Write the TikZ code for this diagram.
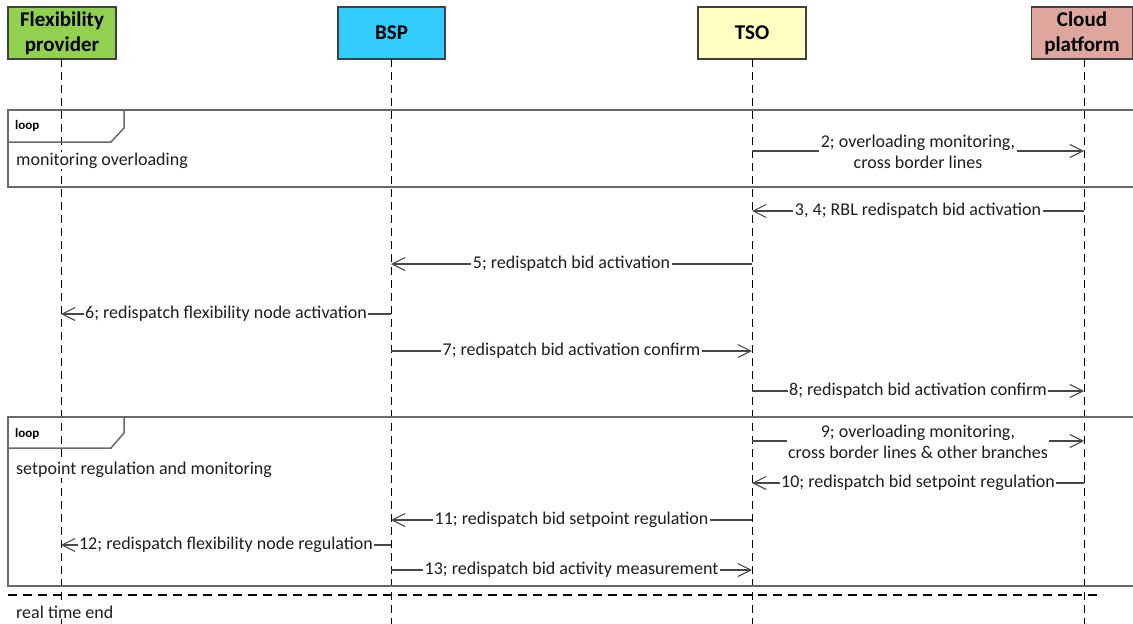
\documentclass[tikz,border=0pt]{standalone}
\usepackage{fontspec}
\setmainfont{Carlito}
\usetikzlibrary{arrows.meta}
\definecolor{fpgreen}{RGB}{146,208,80}
\definecolor{bspblue}{RGB}{51,204,255}
\definecolor{tsoyellow}{RGB}{255,255,194}
\definecolor{cloudpink}{RGB}{223,166,158}
\definecolor{edgegray}{RGB}{64,64,64}
\definecolor{msggray}{RGB}{72,72,72}
\definecolor{framegray}{RGB}{105,105,105}
\definecolor{txt}{RGB}{30,30,30}

\begin{document}
\begin{tikzpicture}[x=1pt,y=-1pt,
  actor/.style={draw=edgegray,line width=1.3pt,minimum height=52pt,inner sep=0pt,
    align=center,text=black,font=\fontsize{21}{25}\selectfont\bfseries},
  lifeline/.style={line width=1pt,dash pattern=on 8pt off 5pt},
  msg/.style={draw=msggray,line width=1.1pt,
    -{Straight Barb[length=13pt,width=13pt,line width=1.1pt]}},
  lbl/.style={fill=white,inner sep=1.5pt,text=txt,font=\fontsize{18}{21.5}\selectfont,
    text height=13pt,text depth=5pt},
  lbltwo/.style={fill=white,inner sep=1.5pt,text=txt,font=\fontsize{18}{21.5}\selectfont,
    align=center,yshift=-1pt},
  frame/.style={draw=framegray,line width=1.5pt},
  looptag/.style={font=\fontsize{13}{15}\selectfont\bfseries,anchor=base west,inner sep=0pt},
  looptext/.style={font=\fontsize{18}{21.5}\selectfont,text=txt,anchor=base west,
    fill=white,inner sep=1pt}]

\useasboundingbox (0,0) rectangle (1133,624);

% participants
\node[actor,fill=fpgreen,minimum width=108pt] (FP) at (62,33) {Flexibility\\provider};
\node[actor,fill=bspblue,minimum width=107pt] (BSP) at (391.5,33) {BSP};
\node[actor,fill=tsoyellow,minimum width=108pt] (TSO) at (752,33) {TSO};
\node[actor,fill=cloudpink,minimum width=101pt] (CP) at (1082,33) {Cloud\\platform};

% lifelines
\coordinate (lFP) at (61,59);    \coordinate (eFP) at (61,624);
\coordinate (lBSP) at (391,59);  \coordinate (eBSP) at (391,624);
\coordinate (lTSO) at (752,59);  \coordinate (eTSO) at (752,624);
\coordinate (lCP) at (1084,59);  \coordinate (eCP) at (1084,624);
\foreach \l in {FP,BSP,TSO,CP} \draw[lifeline] (l\l) -- (e\l);

% combined fragment: monitoring loop
\coordinate (f1tr) at (1133,110); \coordinate (f1tl) at (8,110);
\coordinate (f1bl) at (8,187);    \coordinate (f1br) at (1133,187);
\draw[frame] (f1tr) -- (f1tl) -- (f1bl) -- (f1br);
\coordinate (t1a) at (8,142); \coordinate (t1b) at (111,142);
\coordinate (t1c) at (124,128); \coordinate (t1d) at (124,110);
\draw[frame] (t1a) -- (t1b) -- (t1c) -- (t1d);
\node[looptag] (tag1) at (15,129) {loop};
\node[looptext] (cond1) at (15,165) {monitoring overloading};

% combined fragment: setpoint loop
\coordinate (f2tr) at (1133,417); \coordinate (f2tl) at (8,417);
\coordinate (f2bl) at (8,586);    \coordinate (f2br) at (1133,586);
\draw[frame] (f2tr) -- (f2tl) -- (f2bl) -- (f2br);
\coordinate (t2a) at (8,448); \coordinate (t2b) at (111,448);
\coordinate (t2c) at (124,433); \coordinate (t2d) at (124,417);
\draw[frame] (t2a) -- (t2b) -- (t2c) -- (t2d);
\node[looptag] (tag2) at (15,437) {loop};
\node[looptext] (cond2) at (15,474) {setpoint regulation and monitoring};

% end of real time
\coordinate (rtl) at (8,595); \coordinate (rtr) at (1103,595);
\draw[line width=1.2pt,dash pattern=on 9pt off 6pt] (rtl) -- (rtr);
\node[looptext] (rtend) at (15,618) {real time end};

% message rows
\coordinate (r2) at (0,151);  \coordinate (r3) at (0,211);
\coordinate (r5) at (0,264);  \coordinate (r6) at (0,314);
\coordinate (r7) at (0,351);  \coordinate (r8) at (0,391);
\coordinate (r9) at (0,441);  \coordinate (r10) at (0,483);
\coordinate (r11) at (0,520); \coordinate (r12) at (0,545);
\coordinate (r13) at (0,570);

\draw[msg] (lTSO |- r2) -- node[lbltwo] (m2) {2; overloading monitoring,\\cross border lines} (lCP |- r2);
\draw[msg] (lCP |- r3) -- node[lbl] (m3) {3, 4; RBL redispatch bid activation} (lTSO |- r3);
\draw[msg] (lTSO |- r5) -- node[lbl] (m5) {5; redispatch bid activation} (lBSP |- r5);
\draw[msg] (lBSP |- r6) -- node[lbl] (m6) {6; redispatch flexibility node activation} (lFP |- r6);
\draw[msg] (lBSP |- r7) -- node[lbl] (m7) {7; redispatch bid activation confirm} (lTSO |- r7);
\draw[msg] (lTSO |- r8) -- node[lbl] (m8) {8; redispatch bid activation confirm} (lCP |- r8);
\draw[msg] (lTSO |- r9) -- node[lbltwo] (m9) {9; overloading monitoring,\\cross border lines \& other branches} (lCP |- r9);
\draw[msg] (lCP |- r10) -- node[lbl] (m10) {10; redispatch bid setpoint regulation} (lTSO |- r10);
\draw[msg] (lTSO |- r11) -- node[lbl] (m11) {11; redispatch bid setpoint regulation} (lBSP |- r11);
\draw[msg] (lBSP |- r12) -- node[lbl] (m12) {12; redispatch flexibility node regulation} (lFP |- r12);
\draw[msg] (lBSP |- r13) -- node[lbl] (m13) {13; redispatch bid activity measurement} (lTSO |- r13);

\end{tikzpicture}
\end{document}
